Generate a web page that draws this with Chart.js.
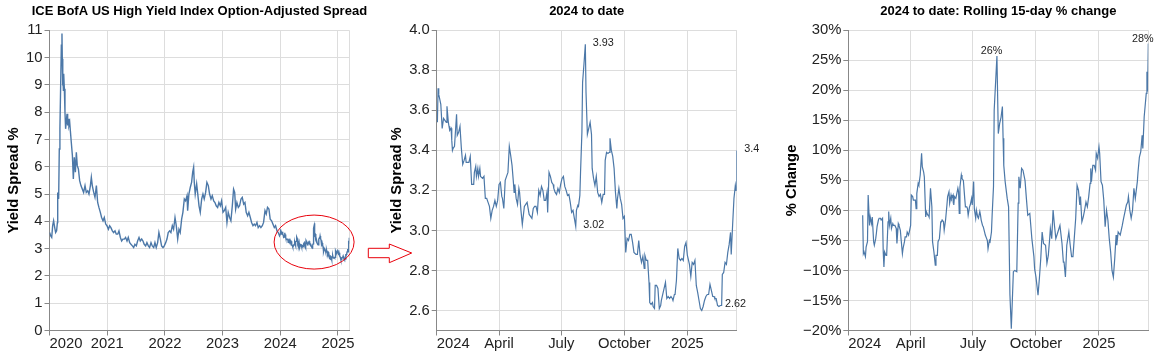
<!DOCTYPE html>
<html><head><meta charset="utf-8">
<script src="https://cdn.jsdelivr.net/npm/chart.js@4.4.1/dist/chart.umd.min.js"></script>
<style>
html,body{margin:0;padding:0;background:#fff;width:1161px;height:358px;overflow:hidden}
canvas{position:absolute;top:0;background:transparent}
</style></head><body>
<canvas id="c1" width="372" height="358" style="left:0px"></canvas>
<canvas id="c2" width="405" height="358" style="left:365px"></canvas>
<canvas id="c3" width="391" height="358" style="left:770px"></canvas>
<script>
// ---------- DATA ----------
// Full history 2020-2023: days since 2020-01-01, spread in %
const histDays = [1,7,14,20,26,33,39,45,50,52,58,62,66,71,75,79,81,83,85,88,90,94,98,102,107,111,115,119,123,128,132,138,145,151,157,164,170,176,183,191,199,208,216,225,233,242,250,259,265,271,280,288,297,305,313,322,330,339,347,356,364,373,381,389,398,406,415,423,432,440,449,457,465,474,482,491,499,508,516,525,533,541,550,558,567,575,584,592,600,609,617,626,634,643,651,660,668,676,685,693,702,710,719,727,736,744,752,761,769,778,786,795,803,812,820,828,837,845,854,862,871,875,883,892,900,907,913,917,923,932,938,947,955,964,972,980,989,997,1006,1014,1023,1031,1040,1048,1056,1065,1073,1082,1090,1099,1107,1116,1124,1132,1141,1149,1158,1166,1173,1179,1187,1196,1204,1213,1221,1230,1238,1246,1255,1263,1272,1280,1289,1297,1305,1314,1322,1331,1339,1348,1356,1365,1373,1381,1390,1398,1407,1415,1424,1432,1441,1449,1457];
const histSpread = [3.59,3.47,3.41,3.84,4.02,3.77,3.59,3.65,3.96,5.06,4.82,6.65,7.39,9.1,10.45,10.88,9.96,8.98,9.35,8.8,9.41,8.86,8.0,7.39,7.7,7.94,7.51,7.76,7.51,7.63,7.33,6.9,6.41,5.55,6.35,5.8,6.53,6.04,5.92,5.49,5.31,5.18,5.06,5.31,5.06,5.12,5.0,5.31,5.61,5.31,5.06,4.88,5.31,4.69,4.51,4.33,4.14,4.02,4.14,3.9,3.84,3.71,3.84,3.77,3.65,3.59,3.65,3.53,3.53,3.65,3.41,3.28,3.35,3.35,3.41,3.28,3.41,3.22,3.16,3.1,3.04,3.16,3.1,3.28,3.41,3.28,3.35,3.28,3.16,3.1,3.22,3.1,3.04,3.22,3.1,3.04,3.22,3.04,3.22,3.59,3.35,3.1,3.04,3.1,3.22,3.35,3.59,3.65,3.59,3.84,3.71,4.14,3.84,3.35,3.71,3.59,4.08,4.33,4.82,4.75,4.94,4.39,5.0,5.25,5.43,5.8,5.98,5.43,5.0,5.37,5.06,4.57,4.33,4.82,5.0,4.82,5.06,5.43,5.31,5.0,4.82,4.94,4.75,4.69,4.57,4.51,4.69,4.57,4.75,4.33,4.39,4.51,3.96,4.33,4.14,4.02,4.57,5.18,5.06,4.45,4.69,4.51,4.57,4.82,4.88,4.63,4.69,4.33,4.2,4.33,4.14,3.96,3.84,3.9,3.84,3.96,3.77,3.84,3.77,3.84,3.96,4.39,4.27,4.51,4.45,4.08,4.02,3.9,3.77,3.84,3.65,3.59,3.47];

// 2024 to date: days since 2024-01-01, spread in %
const ytdDays = [1,2,3,6,8,10,12,14,15,17,18,19,21,22,23,24,26,29,30,32,34,36,38,40,42,43,45,47,49,51,54,55,57,58,60,61,63,64,67,69,71,73,75,77,79,81,83,85,87,89,91,93,95,96,98,100,102,104,106,108,110,112,113,114,116,118,120,121,123,125,128,130,132,133,135,137,139,141,143,145,147,149,151,153,155,157,159,161,162,164,166,168,170,171,173,175,177,179,181,183,185,187,189,191,193,195,197,199,201,203,204,206,207,209,210,212,213,215,217,218,220,222,224,226,227,229,231,233,235,237,239,241,243,245,246,248,250,252,253,255,257,259,261,263,264,266,268,270,272,274,276,278,280,282,284,286,288,291,293,295,297,299,301,303,304,306,308,310,311,313,315,316,318,319,321,323,325,327,328,330,332,334,336,338,340,342,344,345,347,348,350,352,354,356,358,360,362,364,366,369,371,373,375,377,379,381,383,385,387,389,391,393,395,397,399,401,403,405,406,408,410,412,414,416,417,419,421,423,425,427,429,430,432,434,436,437,438];
const ytdSpread = [3.54,3.71,3.68,3.63,3.51,3.56,3.55,3.54,3.62,3.54,3.52,3.50,3.51,3.45,3.40,3.41,3.42,3.58,3.475,3.49,3.52,3.41,3.33,3.35,3.375,3.34,3.34,3.34,3.37,3.23,3.23,3.29,3.32,3.27,3.31,3.27,3.31,3.27,3.26,3.27,3.16,3.16,3.14,3.12,3.06,3.10,3.12,3.15,3.12,3.15,3.23,3.24,3.17,3.16,3.11,3.25,3.27,3.29,3.42,3.375,3.325,3.24,3.19,3.23,3.16,3.13,3.21,3.19,3.10,3.03,3.12,3.13,3.14,3.14,3.08,3.07,3.06,3.11,3.12,3.12,3.09,3.20,3.175,3.22,3.20,3.15,3.15,3.19,3.09,3.29,3.27,3.24,3.23,3.21,3.19,3.18,3.21,3.19,3.23,3.26,3.27,3.22,3.20,3.175,3.18,3.14,3.09,3.10,3.06,3.02,3.10,3.125,3.12,3.175,3.29,3.49,3.74,3.83,3.93,3.69,3.48,3.51,3.54,3.48,3.31,3.26,3.225,3.27,3.19,3.17,3.18,3.14,3.18,3.18,3.35,3.39,3.385,3.39,3.46,3.40,3.37,3.31,3.19,3.11,3.16,3.21,3.16,3.13,3.06,3.07,2.89,2.96,2.95,2.98,2.98,2.94,2.89,2.88,2.88,2.95,2.875,2.84,2.87,2.81,2.875,2.85,2.85,2.74,2.64,2.63,2.64,2.62,2.61,2.725,2.725,2.71,2.61,2.625,2.65,2.68,2.71,2.74,2.66,2.67,2.66,2.67,2.66,2.65,2.68,2.68,2.75,2.91,2.86,2.85,2.86,2.85,2.92,2.94,2.875,2.83,2.77,2.84,2.83,2.85,2.725,2.69,2.65,2.61,2.60,2.62,2.65,2.67,2.68,2.68,2.73,2.70,2.67,2.67,2.66,2.66,2.625,2.62,2.625,2.625,2.78,2.79,2.84,2.83,2.89,2.93,2.99,2.88,3.025,3.16,3.225,3.20,3.40];

// Rolling 15-day % change: days since 2024-01-01, change in %
const rollDays = [21,22,23,25,26,28,29,31,32,34,35,37,38,40,41,42,44,45,47,48,50,51,52,53,55,56,58,59,60,62,63,65,66,68,70,71,73,74,76,77,79,80,82,83,85,86,88,89,91,92,94,95,97,98,99,100,102,103,105,107,108,110,111,113,114,116,117,118,120,122,123,125,127,128,130,131,133,135,136,137,139,140,142,144,145,147,148,150,151,153,154,155,157,158,160,161,162,163,165,166,168,170,171,173,174,175,177,178,180,181,183,184,186,187,189,190,192,193,194,196,197,199,200,202,203,204,206,207,209,210,212,213,217,219,221,223,225,226,227,229,232,234,236,238,241,243,246,248,249,251,253,255,258,260,262,265,268,271,272,274,277,279,281,283,285,288,290,292,294,295,297,299,301,303,306,309,312,314,315,317,319,322,324,326,328,332,334,336,338,339,341,343,345,347,349,351,353,354,355,357,359,361,362,364,366,367,369,371,373,375,377,379,381,383,385,387,389,391,392,394,397,400,402,404,406,408,409,411,413,415,417,419,422,423,425,427,429,430,432,435,436,437,438];
const rollChange = [-0.8,-7.2,-6.9,-7.7,-6.1,-5.2,2.55,-2.5,-1.1,-2.2,-1.1,-5.2,-5.8,-4.7,-3.8,-2.7,-1.6,-1.3,-1.3,-1.6,-1.3,-6.9,-9.4,-6.9,-7.5,-7.5,-1.9,-0.2,-2.5,-1.3,-3.0,-2.2,-2.5,-2.5,-3.0,-5.5,-2.2,-2.5,-3.3,-4.7,-7.2,-6.3,-5.2,-4.4,-4.4,-3.6,-4.1,-3.6,-2.5,2.55,2.3,1.7,1.7,1.7,0.3,2.8,4.5,4.2,5.9,9.5,7.3,6.4,5.6,-1.1,-0.2,-0.8,-0.8,-1.1,3.7,0.6,-5.2,-6.9,-9.1,-7.5,-7.5,-5.2,-4.7,-1.9,-1.9,-1.6,-1.9,-3.3,-1.6,0.9,2.3,3.1,1.2,2.55,2.0,2.55,0.9,2.3,2.0,2.55,3.7,3.1,-0.5,3.9,5.9,5.3,5.0,2.0,0.6,0.6,0.3,-0.8,0.6,0.9,2.0,0.9,4.8,0.3,-1.3,0.05,-1.1,-1.3,-0.2,-0.8,-1.6,-2.5,-2.7,-3.6,-4.1,-4.7,-5.0,-6.4,-5.0,-5.2,-3.6,-0.8,4.0,16.7,25.7,12.8,14.5,15.5,17.3,12.0,7.5,4.8,2.0,0.6,-14.1,-19.7,-10.2,-10.0,-10.2,1.2,5.6,3.7,7.0,6.7,5.0,2.0,-0.8,-0.5,-4.7,-7.7,-9.7,-11.1,-14.1,-11.3,-8.0,-3.6,-5.5,-5.8,-8.8,-7.5,-4.7,-3.0,-4.7,0.05,-2.5,-4.7,-3.6,-2.5,-5.5,-8.6,-8.6,-11.1,-5.8,-3.6,-5.8,-7.7,-7.7,-1.3,4.2,3.4,0.9,2.3,-1.9,-1.1,0.05,1.4,0.6,2.3,4.5,7.0,4.8,7.5,7.5,6.7,9.5,8.7,10.6,9.5,4.8,4.2,1.7,-2.7,0.05,-1.6,-4.7,-6.9,-10.0,-11.1,-8.0,-4.1,-5.8,-3.6,-4.1,-2.5,-1.3,-0.2,0.9,1.4,2.3,0.05,-1.3,0.05,3.7,2.0,4.8,6.4,8.9,9.8,12.5,10.3,15.6,19.5,23.1,19.8,27.8];

// Axis ticks
const histTickDates = ['2020-01-01','2021-01-01','2022-01-01','2023-01-01','2024-01-01','2025-01-01'];
const histTickLabels = ['2020','2021','2022','2023','2024','2025'];
const ytdTickDates = ['2024-01-01','2024-04-01','2024-07-01','2024-10-01','2025-01-01'];
const ytdTickLabels = ['2024','April','July','October','2025'];
const histYTicks = [0,1,2,3,4,5,6,7,8,9,10,11];
const ytdYTicks = [2.6,2.8,3.0,3.2,3.4,3.6,3.8,4.0];
const rollYTicks = [-20,-15,-10,-5,0,5,10,15,20,25,30];

// Point annotations (day since 2024-01-01, text)
const ytdNotes = [{day:217,text:'3.93'},{day:203,text:'3.02'},{day:410,text:'2.62'},{day:438,text:'3.4'}];
const rollNotes = [{day:217,text:'26%'},{day:438,text:'28%'}];
// Highlight ellipse centre on the full-history chart
const focusDate = '2024-08-03';
const focusValue = 3.24;

// ---------- HELPERS ----------
const DAY = 86400000;
const daysSince = (iso, base) => Math.round((Date.parse(iso) - Date.parse(base)) / DAY);
const FONT = '"Liberation Sans", Arial, Helvetica, sans-serif';
Chart.defaults.font.family = FONT;
const LINE = '#4c78a8';
const LABEL_C = '#222';

const histPts = histDays.map((d,i)=>({x:d, y:histSpread[i]}))
  .concat(ytdDays.map((d,i)=>({x:d + daysSince('2024-01-01','2020-01-01'), y:ytdSpread[i]})));
const ytdPts = ytdDays.map((d,i)=>({x:d, y:ytdSpread[i]}));
const rollPts = rollDays.map((d,i)=>({x:d, y:rollChange[i]}));

// Title centred over the plot area (not over the whole canvas)
const plotTitlePlugin = {id:'plotTitle', afterDraw(chart, args, opts){
  const {ctx, chartArea} = chart;
  ctx.save();
  ctx.fillStyle = '#000';
  ctx.font = 'bold 13px ' + FONT;
  ctx.textAlign = 'center'; ctx.textBaseline = 'middle';
  ctx.fillText(opts.text, (chartArea.left + chartArea.right)/2, 11.6);
  ctx.restore();
}};

function makeOptions(o){
  const xt = o.xTickDays;
  return {
    responsive:false, animation:false, devicePixelRatio:1, events:[],
    layout:{padding:{left:0,right:o.padRight,top:30.3,bottom:0}},
    plugins:{
      legend:{display:false}, tooltip:{enabled:false}, title:{display:false},
      plotTitle:{text:o.title}
    },
    scales:{
      x:{type:'linear',min:o.xMin,max:o.xMax,
        afterFit:s=>{s.height=27.5;},
        afterBuildTicks:s=>{s.ticks=xt.map(v=>({value:v})).concat([{value:o.xMax}]);},
        ticks:{autoSkip:false,maxRotation:0,minRotation:0,align:'inner',padding:0,color:LABEL_C,
          font:{family:FONT,size:14.8},
          callback:(v,i)=> (i < o.xTickLabels.length ? o.xTickLabels[i] : '')},
        grid:{color:'#ddd',lineWidth:1,tickLength:5,drawTicks:true,
          tickColor:c=> (c.index >= xt.length ? 'rgba(0,0,0,0)' : '#888')},
        border:{color:'#888',width:1}
      },
      y:{type:'linear',min:o.yMin,max:o.yMax,
        afterFit:s=>{s.width=o.yWidth;},
        afterBuildTicks:s=>{s.ticks=o.yTicks.map(v=>({value:v}));},
        ticks:{autoSkip:false,padding:2,color:LABEL_C,font:{family:FONT,size:14.8},callback:o.yFmt},
        grid:{color:'#ddd',lineWidth:1,tickLength:5,tickColor:'#888'},
        border:{color:'#888',width:1},
        title:{display:true,text:o.yTitle,color:'#000',font:{family:FONT,size:14.8,weight:'bold'},
          padding:{top:o.yTitlePad,bottom:0}}
      }
    }
  };
}
function lineData(pts, w){
  return {datasets:[{data:pts,borderColor:LINE,borderWidth:w,pointRadius:0,tension:0,fill:false,parsing:false}]};
}
function notePlugin(notes, series, mode){
  return {id:'notes',afterDatasetsDraw(chart){
    const {ctx, scales:{x,y}} = chart;
    ctx.save();
    ctx.fillStyle = LABEL_C;
    ctx.font = '10.8px ' + FONT;
    notes.forEach(n=>{
      const p = series.find(q=>q.x===n.day);
      if(!p) return;
      const px = x.getPixelForValue(p.x), py = y.getPixelForValue(p.y);
      ctx.textBaseline='alphabetic';
      if(mode==='right'){ ctx.textAlign='left'; ctx.fillText(n.text, px+7.5, py+1.5); }
      else { ctx.textAlign='center'; ctx.fillText(n.text, px-5.5, py-2); }
    });
    ctx.restore();
  }};
}
const ellipsePlugin = {id:'focus',afterDraw(chart){
  const {ctx, scales:{x,y}} = chart;
  const cx = x.getPixelForValue(daysSince(focusDate,'2020-01-01'));
  const cy = y.getPixelForValue(focusValue);
  ctx.save(); ctx.strokeStyle='#e8000b'; ctx.lineWidth=1;
  ctx.beginPath(); ctx.ellipse(cx, cy, 40, 27, 0, 0, Math.PI*2); ctx.stroke(); ctx.restore();
}};
const arrowPlugin = {id:'arrow',afterDraw(chart){
  const ctx = chart.ctx;
  const pts = [[3.3,248.3],[24.3,248.3],[24.3,244],[46.7,253],[24.3,262.7],[24.3,257.7],[3.3,257.7]];
  ctx.save(); ctx.strokeStyle='#e8000b'; ctx.lineWidth=1; ctx.beginPath();
  pts.forEach((p,i)=> i? ctx.lineTo(p[0],p[1]) : ctx.moveTo(p[0],p[1]));
  ctx.closePath(); ctx.stroke(); ctx.restore();
}};

const ytdEnd = daysSince('2025-03-14','2024-01-01');
const histEnd = daysSince('2025-03-14','2020-01-01');

new Chart(document.getElementById('c1'), {
  type:'line', data:lineData(histPts, 1.4), plugins:[plotTitlePlugin, ellipsePlugin],
  options:makeOptions({title:'ICE BofA US High Yield Index Option-Adjusted Spread', yTitle:'Yield Spread %',
    xMin:0, xMax:histEnd, xTickDays:histTickDates.map(d=>daysSince(d,'2020-01-01')), xTickLabels:histTickLabels,
    yMin:0, yMax:11, yTicks:histYTicks, yFmt:v=>String(v),
    yWidth:49.5, yTitlePad:5.1, padRight:22.7})
});
new Chart(document.getElementById('c2'), {
  type:'line', data:lineData(ytdPts, 1.2), plugins:[plotTitlePlugin, notePlugin(ytdNotes, ytdPts, 'right'), arrowPlugin],
  options:makeOptions({title:'2024 to date', yTitle:'Yield Spread %',
    xMin:0, xMax:ytdEnd, xTickDays:ytdTickDates.map(d=>daysSince(d,'2024-01-01')), xTickLabels:ytdTickLabels,
    yMin:2.5, yMax:4.0, yTicks:ytdYTicks, yFmt:v=>Number(v).toFixed(1),
    yWidth:71.7, yTitlePad:22.6, padRight:33.3})
});
new Chart(document.getElementById('c3'), {
  type:'line', data:lineData(rollPts, 1.2), plugins:[plotTitlePlugin, notePlugin(rollNotes, rollPts, 'above')],
  options:makeOptions({title:'2024 to date: Rolling 15-day % change', yTitle:'% Change',
    xMin:0, xMax:ytdEnd, xTickDays:ytdTickDates.map(d=>daysSince(d,'2024-01-01')), xTickLabels:ytdTickLabels,
    yMin:-20, yMax:30, yTicks:rollYTicks, yFmt:v=> (v<0 ? '\u2212' + (-v) : String(v)) + '%',
    yWidth:78.3, yTitlePad:12.6, padRight:12.7})
});
</script>
</body></html>
